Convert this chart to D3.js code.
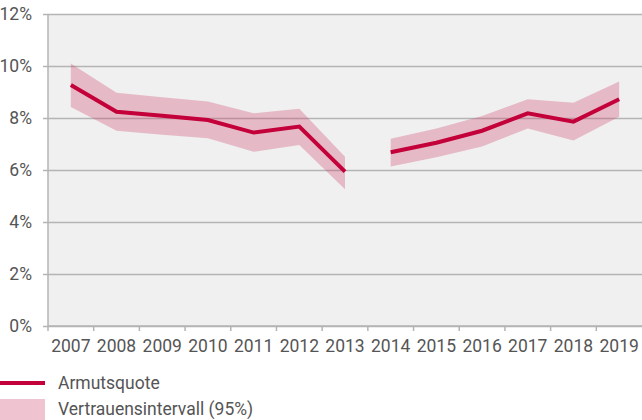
<!DOCTYPE html>
<html>
<head>
<meta charset="utf-8">
<script src="https://cdn.jsdelivr.net/npm/d3@7"></script>
<style>
  body { margin: 0; background: #fff; }
  svg { display: block; font-family: Roboto, sans-serif; }
</style>
</head>
<body>
<div id="chart"></div>
<script>
'use strict';
(function (d3) {
  const years = [`2007`, `2008`, `2009`, `2010`, `2011`, `2012`, `2013`, `2014`, `2015`, `2016`, `2017`, `2018`, `2019`];
  // Armutsquote in %; the line breaks between 2013 and 2014
  const rate = [9.27, 8.24, 8.09, 7.92, 7.44, 7.67, 5.94, 6.68, 7.05, 7.51, 8.18, 7.86, 8.72];
  const lower = [8.42, 7.51, 7.36, 7.22, 6.7, 6.96, 5.26, 6.13, 6.49, 6.9, 7.6, 7.13, 8.05];
  const upper = [10.1, 8.97, 8.8, 8.63, 8.18, 8.36, 6.51, 7.2, 7.6, 8.08, 8.72, 8.59, 9.4];
  const segments = [[0, 6], [7, 12]];
  const yTicks = [0, 2, 4, 6, 8, 10, 12];
  const legendLabels = [`Armutsquote`, `Vertrauensintervall (95%)`];

  const width = 642;
  const height = 420;
  const margin = { top: 14, right: 0, bottom: 94, left: 48 };
  const fontSize = 17.5;

  const lineColor = `#c4003a`;
  const bandColor = `rgba(205, 70, 110, 0.32)`;
  const gridColor = `#b4b4b4`;
  const textColor = `#555`;

  const svg = d3.select(`#chart`).append(`svg`).attr(`width`, width).attr(`height`, height);

  const x = d3
    .scaleBand()
    .domain(years)
    .range([margin.left, width - margin.right]);

  const y = d3
    .scaleLinear()
    .domain([0, 12])
    .range([height - margin.bottom, margin.top]);

  // Plot background
  svg
    .append(`rect`)
    .attr(`x`, margin.left)
    .attr(`y`, margin.top)
    .attr(`width`, width - margin.right - margin.left)
    .attr(`height`, y(0) - margin.top)
    .attr(`fill`, `#f0f0f0`);

  // Y axis with grid
  svg
    .append(`g`)
    .attr(`transform`, `translate(${margin.left},0)`)
    .call(
      d3
        .axisLeft(y)
        .tickValues(yTicks)
        .tickSize(-(width - margin.right - margin.left))
        .tickFormat((d) => `${d}%`)
    )
    .call((g) => g.select(`.domain`).remove())
    .call((g) => g.selectAll(`.tick line`).attr(`stroke`, gridColor).attr(`stroke-width`, 1.5).attr(`x1`, -5))
    .call((g) =>
      g
        .selectAll(`.tick text`)
        .attr(`x`, -16)
        .attr(`fill`, textColor)
        .attr(`font-size`, fontSize)
        .attr(`font-family`, `Roboto, sans-serif`)
    );

  svg
    .append(`line`)
    .attr(`x1`, margin.left)
    .attr(`x2`, margin.left)
    .attr(`y1`, margin.top)
    .attr(`y2`, y(0))
    .attr(`stroke`, gridColor)
    .attr(`stroke-width`, 1.5);

  // X axis: ticks between years
  const xAxis = svg.append(`g`).attr(`transform`, `translate(0,${y(0)})`);
  xAxis
    .append(`line`)
    .attr(`x1`, margin.left)
    .attr(`x2`, width)
    .attr(`stroke`, gridColor)
    .attr(`stroke-width`, 1.5);
  xAxis
    .selectAll(`line.tick`)
    .data(years)
    .join(`line`)
    .attr(`class`, `tick`)
    .attr(`x1`, (d) => x(d))
    .attr(`x2`, (d) => x(d))
    .attr(`y1`, 0)
    .attr(`y2`, 5)
    .attr(`stroke`, gridColor)
    .attr(`stroke-width`, 1.5);
  xAxis
    .selectAll(`text`)
    .data(years)
    .join(`text`)
    .attr(`x`, (d) => x(d) + x.bandwidth() / 2)
    .attr(`y`, 26)
    .attr(`text-anchor`, `middle`)
    .attr(`fill`, textColor)
    .attr(`font-size`, fontSize)
    .text((d) => d);

  const cx = (i) => x(years[i]) + x.bandwidth() / 2;

  const area = d3
    .area()
    .x((d) => cx(d))
    .y0((d) => y(lower[d]))
    .y1((d) => y(upper[d]));

  const line = d3
    .line()
    .x((d) => cx(d))
    .y((d) => y(rate[d]));

  const seg = segments.map(([a, b]) => d3.range(a, b + 1));

  svg
    .append(`g`)
    .selectAll(`path`)
    .data(seg)
    .join(`path`)
    .attr(`d`, area)
    .attr(`fill`, bandColor);

  svg
    .append(`g`)
    .selectAll(`path`)
    .data(seg)
    .join(`path`)
    .attr(`d`, line)
    .attr(`fill`, `none`)
    .attr(`stroke`, lineColor)
    .attr(`stroke-width`, 4);

  // Legend
  const legend = svg.append(`g`);
  legend
    .append(`line`)
    .attr(`x1`, 0)
    .attr(`x2`, 45)
    .attr(`y1`, 383)
    .attr(`y2`, 383)
    .attr(`stroke`, lineColor)
    .attr(`stroke-width`, 4);
  legend
    .append(`rect`)
    .attr(`x`, 0)
    .attr(`y`, 399)
    .attr(`width`, 45)
    .attr(`height`, 21)
    .attr(`fill`, `#efc3cf`);
  legend
    .selectAll(`text`)
    .data(legendLabels)
    .join(`text`)
    .attr(`x`, 58)
    .attr(`y`, (d, i) => 383 + i * 26)
    .attr(`dy`, `0.35em`)
    .attr(`fill`, textColor)
    .attr(`font-size`, fontSize)
    .text((d) => d);
})(d3);
</script>
</body>
</html>
